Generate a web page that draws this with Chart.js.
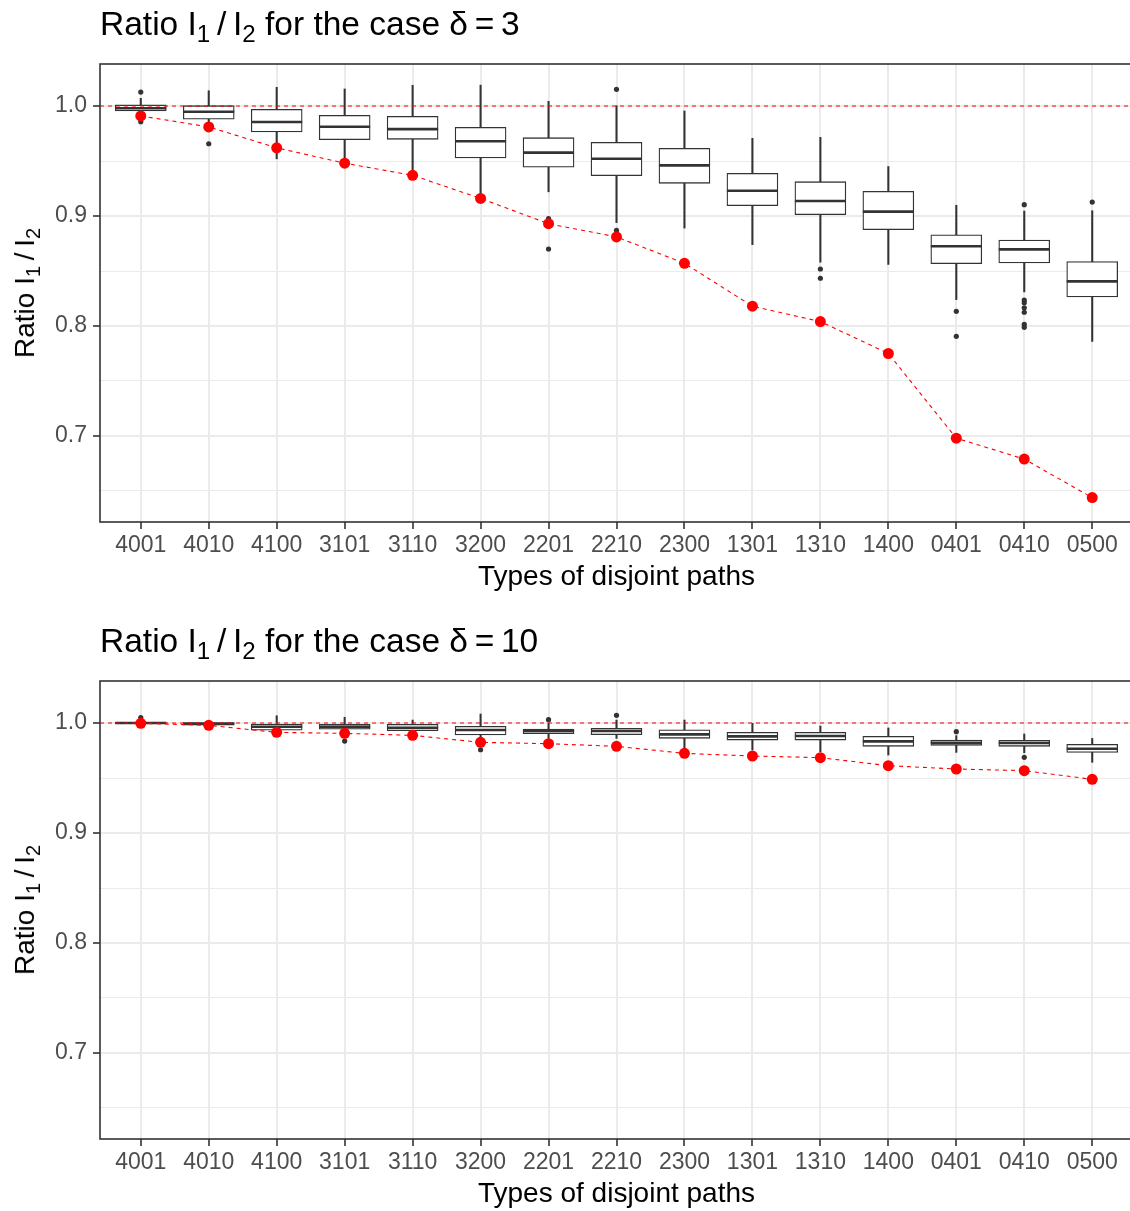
<!DOCTYPE html>
<html>
<head>
<meta charset="utf-8">
<script src="https://cdn.jsdelivr.net/npm/chart.js@4.4.1/dist/chart.umd.min.js"></script>
<style>
  body { margin: 0; background: #fff; overflow: hidden; font-family: "Liberation Sans", Arial, sans-serif; }
  .panel { position: absolute; left: 0; width: 1134px; height: 594px; }
  .panel canvas { position: absolute; left: 0; top: 0; }
  .title { position: absolute; left: 100px; top: 7px; font-size: 33.5px; line-height: 33.5px; color: #000; white-space: nowrap; }
  .ytitle { position: absolute; left: 25px; top: 293px; font-size: 28px; line-height: 28px; color: #000; white-space: nowrap;
            transform: translate(-50%, -50%) rotate(-90deg); }
  sub { font-size: 72%; vertical-align: -0.3em; line-height: 0; }
</style>
</head>
<body>

<div class="panel" style="top:0">
  <canvas id="chart3" width="1134" height="594"></canvas>
  <div class="title">Ratio I<sub>1</sub>&thinsp;/&thinsp;I<sub>2</sub> for the case &delta;&thinsp;=&thinsp;3</div>
  <div class="ytitle">Ratio I<sub>1</sub>&thinsp;/&thinsp;I<sub>2</sub></div>
</div>

<div class="panel" style="top:617px">
  <canvas id="chart10" width="1134" height="594"></canvas>
  <div class="title">Ratio I<sub>1</sub>&thinsp;/&thinsp;I<sub>2</sub> for the case &delta;&thinsp;=&thinsp;10</div>
  <div class="ytitle">Ratio I<sub>1</sub>&thinsp;/&thinsp;I<sub>2</sub></div>
</div>

<script>
// --- data ---------------------------------------------------------------
const categories = ['4001', '4010', '4100', '3101', '3110', '3200', '2201', '2210',
                    '2300', '1301', '1310', '1400', '0401', '0410', '0500'];

const yMajorTicks = [0.7, 0.8, 0.9, 1.0];
const yMinorTicks = [0.65, 0.75, 0.85, 0.95];
const refValue = 1.0;

// delta = 3
const low3  = [0.992, 0.977, 0.952, 0.949, 0.938, 0.918, 0.922, 0.894, 0.889, 0.874, 0.858, 0.856, 0.824, 0.831, 0.786];
const q1_3  = [0.9955, 0.988, 0.9764, 0.9694, 0.9697, 0.9527, 0.9443, 0.9367, 0.9297, 0.9094, 0.9012, 0.8876, 0.8566, 0.8573, 0.8264];
const med3  = [0.998, 0.9948, 0.9855, 0.9812, 0.979, 0.968, 0.9576, 0.952, 0.946, 0.923, 0.9136, 0.904, 0.8725, 0.8697, 0.8406];
const q3_3  = [1.001, 1.0003, 0.997, 0.9915, 0.9906, 0.9806, 0.9712, 0.967, 0.9615, 0.9388, 0.9312, 0.9224, 0.883, 0.8782, 0.8585];
const high3 = [1.007, 1.0139, 1.017, 1.0155, 1.0188, 1.019, 1.0043, 1.0003, 0.9955, 0.9706, 0.9715, 0.945, 0.9097, 0.9045, 0.9048];
const outliers3 = [
  ['4001', 1.0127], ['4001', 0.9857], ['4010', 0.9657],
  ['2201', 0.8976], ['2201', 0.895], ['2201', 0.870],
  ['2210', 1.0152], ['2210', 0.887],
  ['1310', 0.8518], ['1310', 0.8434],
  ['0401', 0.8133], ['0401', 0.7906],
  ['0410', 0.9103], ['0410', 0.8236], ['0410', 0.8212], ['0410', 0.8166],
  ['0410', 0.8125], ['0410', 0.8015], ['0410', 0.7988],
  ['0500', 0.9127]
];
const ratio3 = [0.991, 0.981, 0.962, 0.948, 0.937, 0.916, 0.893, 0.881, 0.857, 0.818, 0.804, 0.775, 0.698, 0.679, 0.644];

// delta = 10
const low10  = [0.999, 0.9975, 0.992, 0.9876, 0.989, 0.985, 0.986, 0.986, 0.9766, 0.9755, 0.9739, 0.9709, 0.9733, 0.973, 0.9643];
const q1_10  = [0.9993, 0.998, 0.9934, 0.9943, 0.993, 0.9891, 0.9903, 0.9894, 0.9861, 0.9845, 0.9845, 0.9788, 0.9797, 0.9788, 0.9733];
const med10  = [1.0, 0.9993, 0.9966, 0.9966, 0.9957, 0.9936, 0.9927, 0.9927, 0.9897, 0.9879, 0.9882, 0.9833, 0.9821, 0.9818, 0.9766];
const q3_10  = [1.0005, 1.0003, 0.9991, 0.9988, 0.9988, 0.997, 0.9945, 0.9952, 0.9939, 0.9915, 0.9915, 0.9879, 0.9845, 0.9843, 0.9806];
const high10 = [1.002, 1.0015, 1.0066, 1.0052, 1.0027, 1.0082, 1.0, 1.0027, 1.0027, 0.9997, 0.9973, 0.9955, 0.9885, 0.99, 0.986];
const outliers10 = [
  ['4001', 1.005], ['3101', 0.9836], ['3200', 0.9757], ['2201', 1.003],
  ['2210', 1.007], ['0401', 0.9921], ['0410', 0.9688]
];
const ratio10 = [0.9997, 0.9979, 0.9915, 0.9906, 0.9888, 0.9824, 0.9812, 0.9788, 0.9724, 0.970, 0.9685, 0.9612, 0.9582, 0.9567, 0.9488];

// --- chart --------------------------------------------------------------
Chart.defaults.font.family = '"Liberation Sans", Arial, sans-serif';
Chart.defaults.animation = false;

const isMajor = v => yMajorTicks.some(t => Math.abs(t - v) < 1e-6);

// dashed reference line at 1.0, drawn just before the red series
const refLinePlugin = {
  id: 'refLine',
  beforeDatasetDraw(chart, args) {
    if (args.index !== 4) return;
    const { ctx, chartArea } = chart;
    const y = chart.scales.y.getPixelForValue(refValue);
    ctx.save();
    ctx.strokeStyle = '#ff0000';
    ctx.lineWidth = 1;
    ctx.setLineDash([4, 4]);
    ctx.beginPath();
    ctx.moveTo(chartArea.left, y);
    ctx.lineTo(chartArea.right, y);
    ctx.stroke();
    ctx.restore();
  }
};

// panel border all round
const framePlugin = {
  id: 'frame',
  afterDatasetsDraw(chart) {
    const { ctx, chartArea } = chart;
    ctx.save();
    ctx.strokeStyle = '#333333';
    ctx.lineWidth = 1.6;
    ctx.strokeRect(chartArea.left, chartArea.top, chartArea.right - chartArea.left, chartArea.bottom - chartArea.top);
    ctx.restore();
  }
};

function makePanel(id, low, q1, med, q3, high, outliers, ratio) {
  new Chart(document.getElementById(id), {
    type: 'bar',
    data: {
      datasets: [
        { // whiskers
          type: 'bar',
          data: categories.map((c, i) => ({ x: i, y: [low[i], high[i]] })),
          backgroundColor: '#333333',
          borderWidth: 0,
          barThickness: 1.4,
          grouped: false,
          order: 5
        },
        { // boxes
          type: 'bar',
          data: categories.map((c, i) => ({ x: i, y: [q1[i], q3[i]] })),
          backgroundColor: '#ffffff',
          borderColor: '#333333',
          borderWidth: 1.3,
          borderSkipped: false,
          barThickness: 51,
          grouped: false,
          order: 4
        },
        { // medians
          type: 'line',
          data: categories.map((c, i) => ({ x: i, y: med[i] })),
          showLine: false,
          pointStyle: 'line',
          pointRadius: 25.5,
          pointBorderWidth: 2.6,
          pointBorderColor: '#333333',
          order: 3
        },
        { // outliers
          type: 'line',
          data: outliers.map(o => ({ x: categories.indexOf(o[0]), y: o[1] })),
          showLine: false,
          pointRadius: 2.6,
          pointBackgroundColor: '#333333',
          pointBorderWidth: 0,
          order: 2
        },
        { // ratio of the chosen paths
          type: 'line',
          data: categories.map((c, i) => ({ x: i, y: ratio[i] })),
          borderColor: '#ff0000',
          borderWidth: 1.1,
          borderDash: [4, 4],
          pointRadius: 5.5,
          pointBackgroundColor: '#ff0000',
          pointBorderWidth: 0,
          tension: 0,
          order: 1
        }
      ]
    },
    options: {
      responsive: false,
      events: [],
      layout: { autoPadding: false, padding: { top: 64, left: 0, right: 1, bottom: 0 } },
      plugins: { legend: { display: false }, tooltip: { enabled: false } },
      scales: {
        x: {
          type: 'linear',
          offset: false,
          min: -0.6,
          max: 14.6,
          afterBuildTicks: s => { s.ticks = categories.map((c, i) => ({ value: i })); },
          afterFit: s => { s.height = 72; s.paddingLeft = 0; s.paddingRight = 0; },
          ticks: {
            callback: v => categories[v],
            color: '#4d4d4d',
            font: { size: 23 },
            padding: 3,
            maxRotation: 0,
            autoSkip: false
          },
          grid: { offset: false, color: '#ebebeb', lineWidth: 2, tickColor: '#333333', tickLength: 7, tickWidth: 1.6 },
          border: { display: false },
          title: { display: true, text: 'Types of disjoint paths', color: '#000', font: { size: 28 }, padding: 0 }
        },
        y: {
          type: 'linear',
          min: 0.6218,
          max: 1.0382,
          afterBuildTicks: s => {
            s.ticks = yMinorTicks.concat(yMajorTicks).sort((a, b) => a - b).map(v => ({ value: v }));
          },
          afterFit: s => { s.width = 100; },
          ticks: {
            callback: v => isMajor(v) ? v.toFixed(1) : '',
            color: '#4d4d4d',
            font: { size: 23 },
            padding: 6
          },
          grid: {
            color: '#ebebeb',
            lineWidth: ctx => isMajor(ctx.tick.value) ? 2 : 1,
            tickColor: ctx => isMajor(ctx.tick.value) ? '#333333' : 'rgba(0,0,0,0)',
            tickLength: 7,
            tickWidth: 1.6
          },
          border: { display: false }
        }
      }
    },
    plugins: [refLinePlugin, framePlugin]
  });
}

makePanel('chart3', low3, q1_3, med3, q3_3, high3, outliers3, ratio3);
makePanel('chart10', low10, q1_10, med10, q3_10, high10, outliers10, ratio10);
</script>
</body>
</html>
